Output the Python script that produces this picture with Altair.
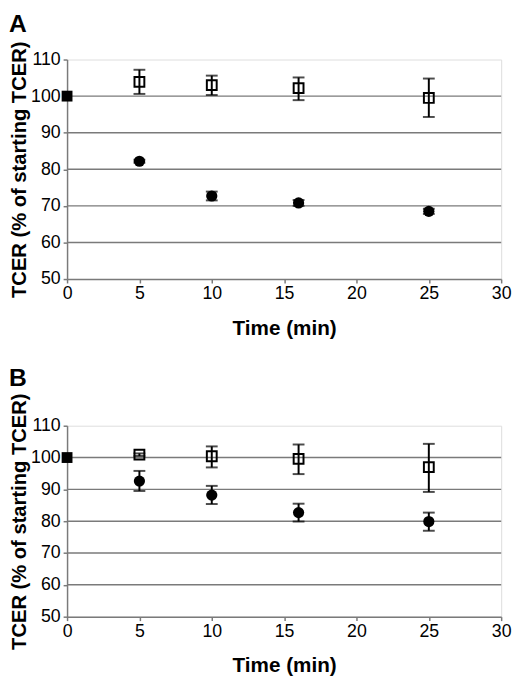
import altair as alt
import pandas as pd

# ---- data ----
time = [5, 10, 16, 25]
x_ticks = [0, 5, 10, 15, 20, 25, 30]
y_ticks = [50, 60, 70, 80, 90, 100, 110]
grid_vals = [60, 70, 80, 90, 100]
start_time = [0]
start_val = [100]

a_ctrl = [103.9, 103.0, 102.2, 99.5]
a_ctrl_lo = [100.6, 100.3, 98.9, 94.3]
a_ctrl_hi = [107.2, 105.6, 105.1, 104.8]
a_trt = [82.2, 72.7, 70.8, 68.5]
a_trt_lo = [81.8, 71.5, 70.0, 67.8]
a_trt_hi = [82.6, 73.9, 71.6, 69.2]

b_ctrl = [100.9, 100.4, 99.6, 97.0]
b_ctrl_lo = [100.5, 96.9, 94.8, 89.2]
b_ctrl_hi = [101.3, 103.5, 104.1, 104.3]
b_trt = [92.6, 88.2, 82.7, 79.9]
b_trt_lo = [89.5, 85.4, 79.9, 77.0]
b_trt_hi = [95.8, 91.1, 85.5, 82.7]

FONT = "Liberation Sans"
GRAY = "#7a7a7a"
W = 441
X_TITLE = "Time (min)"
Y_TITLE = "TCER (% of starting TCER)"


def panel(letter, ctrl, ctrl_lo, ctrl_hi, trt, trt_lo, trt_hi, h):
    df = pd.DataFrame({
        "time": time * 2,
        "val": ctrl + trt,
        "lo": ctrl_lo + trt_lo,
        "hi": ctrl_hi + trt_hi,
        "group": ["control"] * 4 + ["treated"] * 4,
    })
    ctrl_df = df[df.group == "control"]
    trt_df = df[df.group == "treated"]
    start_df = pd.DataFrame({"time": start_time, "val": start_val})
    grid_df = pd.DataFrame({"val": grid_vals})
    letter_df = pd.DataFrame({"label": [letter]})

    xscale = alt.Scale(domain=[0, 30], nice=False, zero=False)
    yscale = alt.Scale(domain=[50, 110], nice=False, zero=False)
    xaxis = alt.Axis(values=x_ticks, grid=False, domainColor=GRAY, domainWidth=1.5,
                     tickColor=GRAY, tickWidth=1.5, tickSize=4, labelFontSize=18,
                     labelColor="black", labelFont=FONT, labelPadding=2,
                     labelFlush=False, labelOverlap=False,
                     titleFont=FONT, titleFontSize=21, titleFontWeight="bold",
                     titleColor="black", titleY=56, titleBaseline="alphabetic")
    yaxis = alt.Axis(values=y_ticks, grid=False, domainColor=GRAY, domainWidth=1.5,
                     tickColor=GRAY, tickWidth=1.5, tickSize=4, labelFontSize=18,
                     labelColor="black", labelFont=FONT, labelPadding=3,
                     labelFlush=False, labelOverlap=False,
                     titleFont=FONT, titleFontSize=20.5, titleFontWeight="bold",
                     titleColor="black", titleX=-42, titleY=h / 2, titleAngle=270,
                     titleBaseline="alphabetic", titleAlign="center")

    X = lambda f: alt.X(f, scale=xscale, axis=xaxis, title=X_TITLE)
    Y = lambda f: alt.Y(f, scale=yscale, axis=yaxis, title=Y_TITLE)

    grid = alt.Chart(grid_df).mark_rule(color=GRAY, strokeWidth=1.5).encode(
        y=Y("val:Q"), x=alt.value(0), x2=alt.value(W))
    bars = alt.Chart(df).mark_rule(color="black", strokeWidth=2).encode(
        x=X("time:Q"), y=Y("lo:Q"), y2="hi:Q")
    cap_lo = alt.Chart(df).mark_tick(color="black", orient="horizontal", size=12,
                                     thickness=2).encode(x=X("time:Q"), y=Y("lo:Q"))
    cap_hi = alt.Chart(df).mark_tick(color="black", orient="horizontal", size=12,
                                     thickness=2).encode(x=X("time:Q"), y=Y("hi:Q"))
    squares = alt.Chart(ctrl_df).mark_point(shape="square", filled=False, size=100,
                                            color="black", strokeWidth=2, opacity=1).encode(
        x=X("time:Q"), y=Y("val:Q"))
    circles = alt.Chart(trt_df).mark_point(shape="circle", filled=True, size=130,
                                           color="black", opacity=1).encode(
        x=X("time:Q"), y=Y("val:Q"))
    start = alt.Chart(start_df).mark_point(shape="square", filled=True, size=121,
                                           color="black", opacity=1).encode(
        x=X("time:Q"), y=Y("val:Q"))
    lab = alt.Chart(letter_df).mark_text(font=FONT, fontSize=25, fontWeight="bold",
                                         align="left", baseline="alphabetic",
                                         color="black").encode(
        text="label:N", x=alt.value(-59), y=alt.value(-28 if letter == "A" else -40))

    return alt.layer(grid, bars, cap_lo, cap_hi, squares, circles, start, lab).properties(
        width=W, height=h)


pa = panel("A", a_ctrl, a_ctrl_lo, a_ctrl_hi, a_trt, a_trt_lo, a_trt_hi, 223)
pb = panel("B", b_ctrl, b_ctrl_lo, b_ctrl_hi, b_trt, b_trt_lo, b_trt_hi, 194)

chart = alt.vconcat(pa, pb, spacing=27).properties(
    padding={"top": -2, "left": 0, "right": 0, "bottom": 0}).configure_view(
    stroke=None).configure(background="white")

chart.save("out.html", embed_options={"renderer": "svg", "actions": False})
